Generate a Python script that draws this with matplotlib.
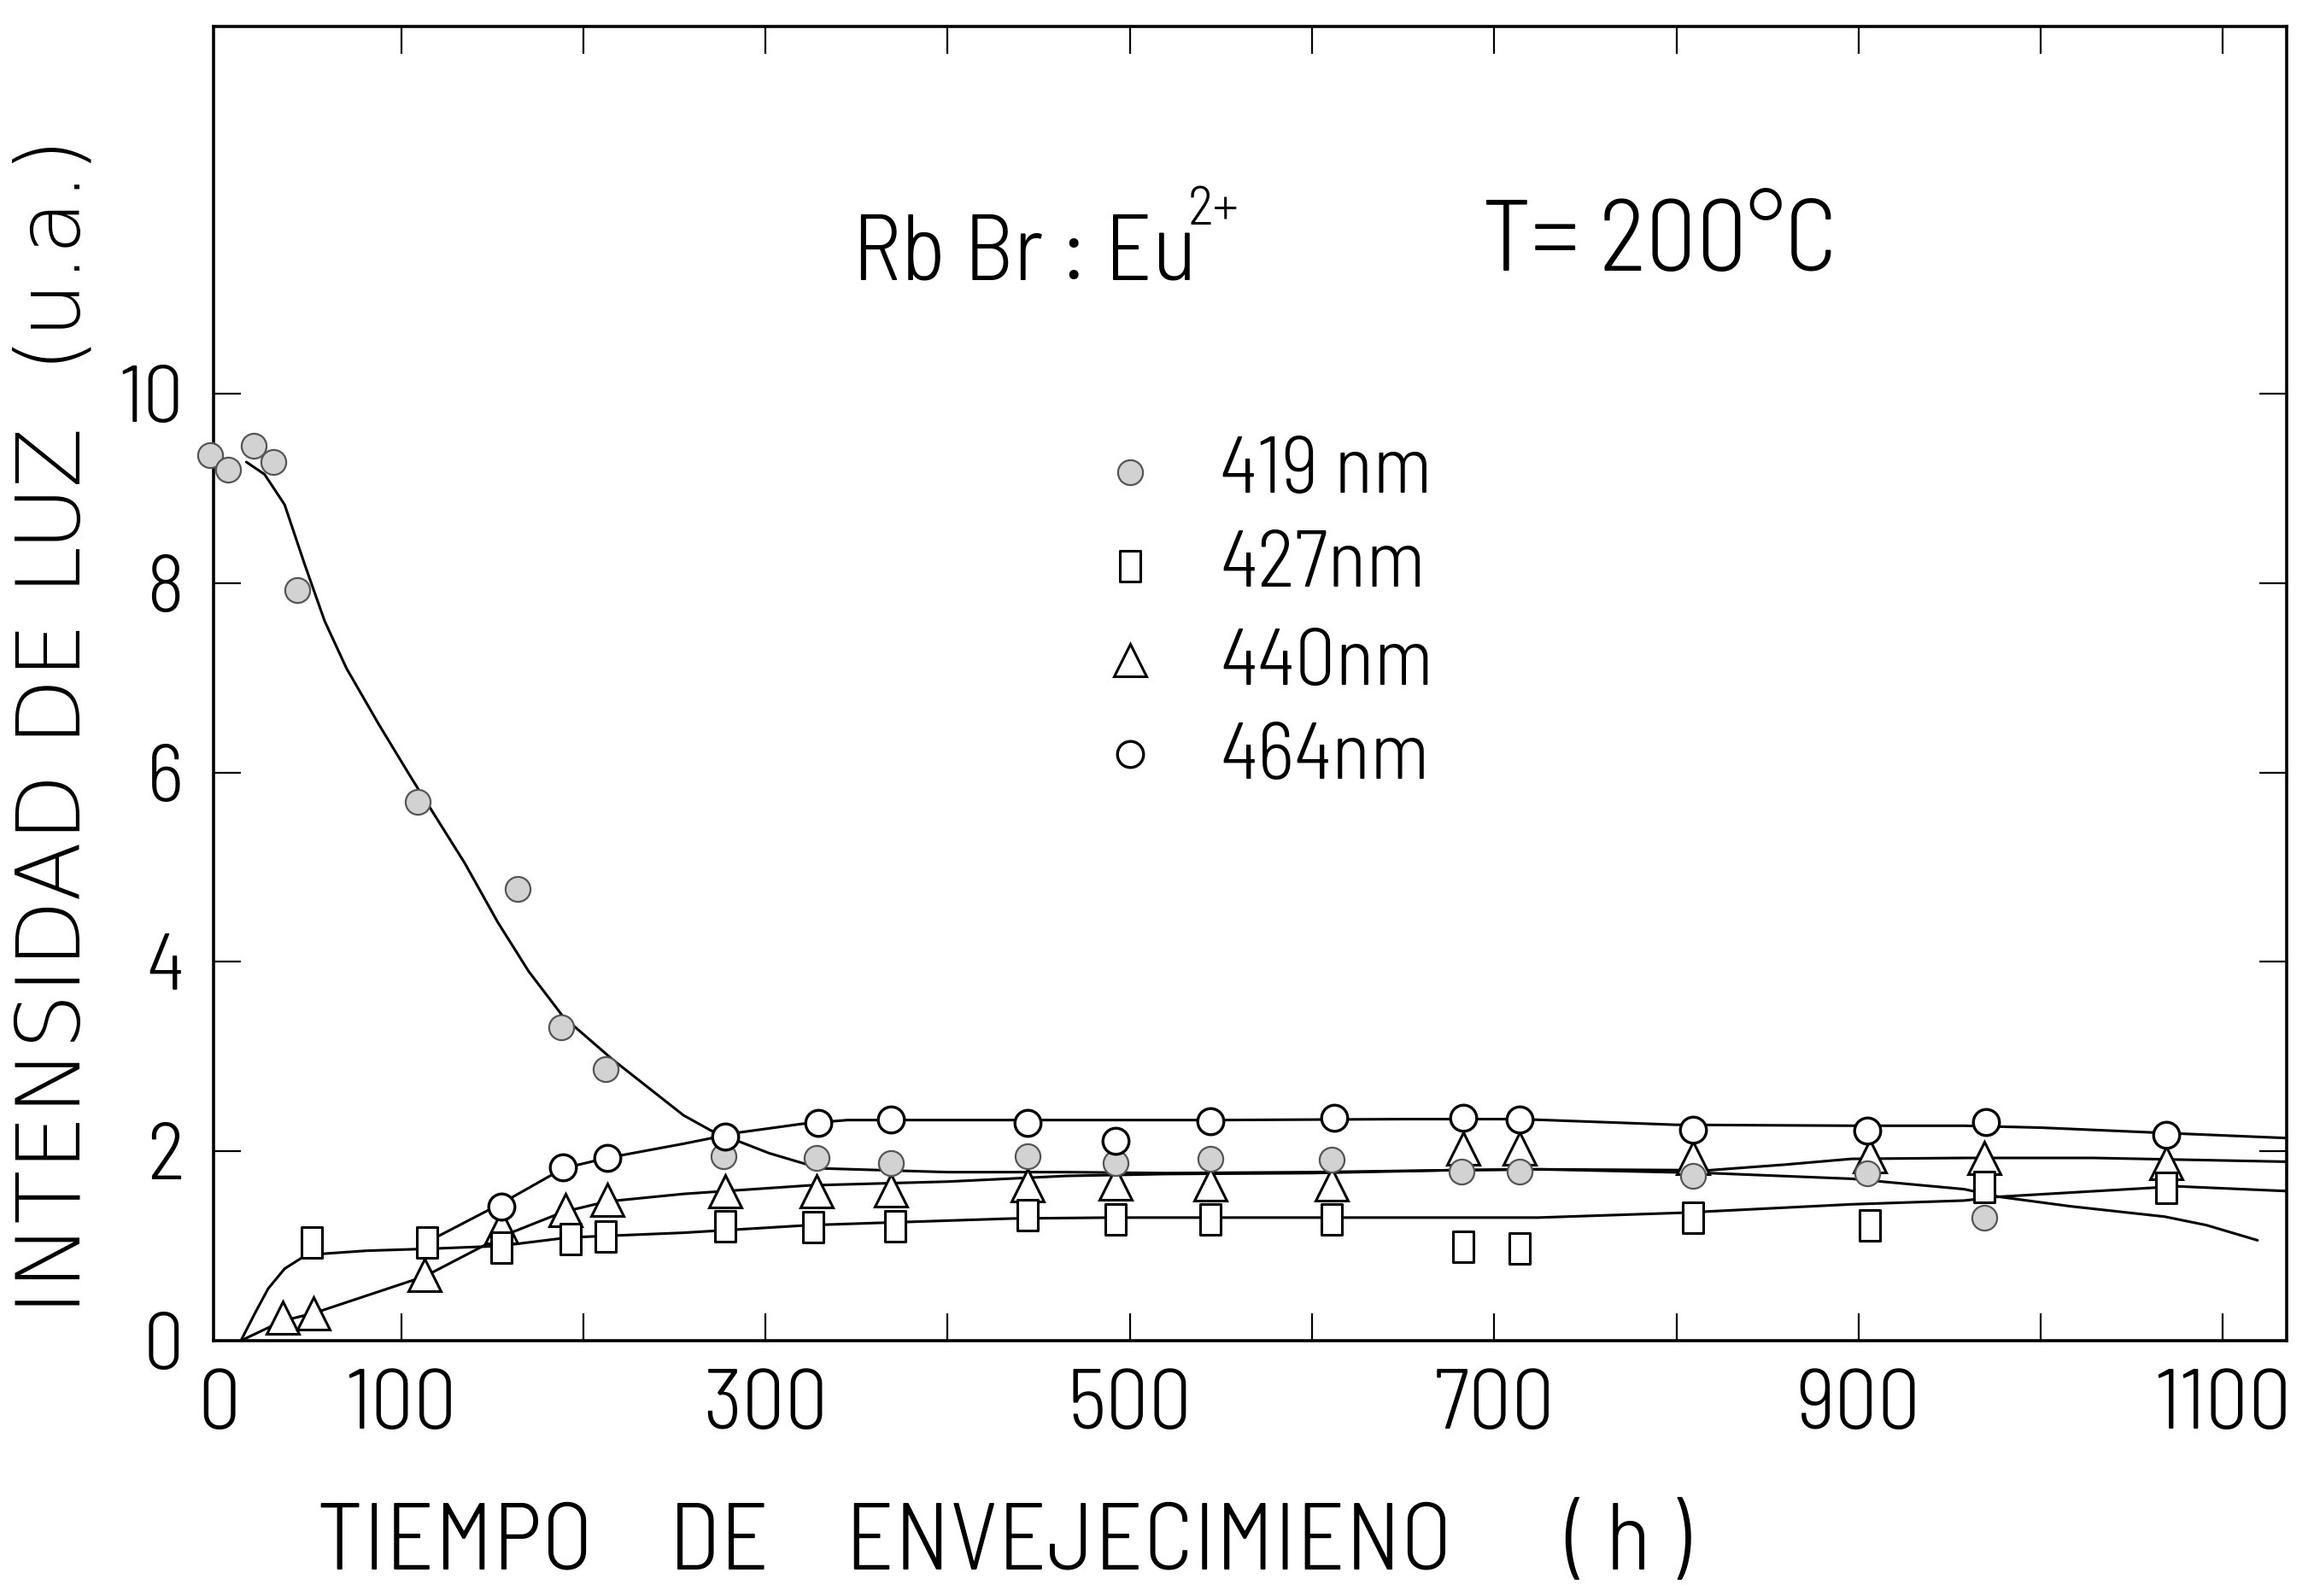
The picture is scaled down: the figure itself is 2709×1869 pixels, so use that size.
import numpy as np
import matplotlib
matplotlib.use("Agg")
import matplotlib.pyplot as plt
from matplotlib.path import Path
from matplotlib import font_manager
from matplotlib.font_manager import FontProperties


# ============================================================
# Data (time in h, intensity in a.u.)
# ============================================================

h_419 = [-5, 5, 19, 30, 43, 109, 164, 188, 212, 277, 328, 369, 444, 492,
         544, 611, 682, 714, 809, 905, 969]
i_419 = [9.35, 9.20, 9.45, 9.28, 7.93, 5.69, 4.77, 3.31, 2.87, 1.95, 1.93,
         1.88, 1.95, 1.88, 1.92, 1.91, 1.79, 1.79, 1.74, 1.77, 1.30]

h_427 = [51, 114, 155, 193, 212, 278, 326, 371, 444, 492, 544, 611, 683,
         714, 809, 906, 969, 1069]
i_427 = [1.04, 1.04, 0.98, 1.07, 1.10, 1.21, 1.20, 1.21, 1.33, 1.28, 1.28,
         1.28, 0.99, 0.97, 1.30, 1.22, 1.62, 1.61]

h_440 = [35, 52, 113, 155, 190, 213, 278, 328, 369, 444, 492, 544, 611,
         683, 714, 809, 906, 969, 1069]
i_440 = [0.24, 0.29, 0.69, 1.20, 1.38, 1.49, 1.58, 1.58, 1.59, 1.64, 1.66,
         1.65, 1.65, 2.03, 2.03, 1.93, 1.95, 1.93, 1.88]

h_464 = [155, 189, 213, 278, 329, 369, 444, 492, 544, 612, 683, 714, 809,
         905, 970, 1069]
i_464 = [1.42, 1.83, 1.93, 2.16, 2.30, 2.34, 2.30, 2.11, 2.32, 2.35, 2.35,
         2.34, 2.23, 2.22, 2.31, 2.17]

# hand-drawn guide curves
fit_h_419 = [15, 25, 36, 47, 58, 70, 88, 106, 135, 153, 170, 189, 216, 255,
             270, 302, 330, 400, 465, 520, 600, 675, 724, 818, 896, 958, 977,
             1016, 1068, 1091, 1119]
fit_i_419 = [9.28, 9.15, 8.83, 8.20, 7.60, 7.10, 6.50, 5.93, 5.04, 4.42,
             3.90, 3.42, 2.97, 2.38, 2.22, 1.98, 1.82, 1.78, 1.78, 1.77,
             1.78, 1.80, 1.81, 1.77, 1.71, 1.60, 1.52, 1.42, 1.31, 1.22, 1.06]

fit_h_427 = [12, 20, 27, 36, 45, 51, 81, 114, 154, 192, 255, 324, 435, 490,
             600, 724, 802, 896, 958, 977, 1075, 1135]
fit_i_427 = [0.00, 0.30, 0.55, 0.76, 0.87, 0.91, 0.95, 0.97, 1.00, 1.09,
             1.14, 1.22, 1.29, 1.30, 1.30, 1.30, 1.35, 1.44, 1.48, 1.52,
             1.63, 1.58]

fit_h_440 = [12, 35, 52, 113, 155, 189, 213, 255, 324, 400, 465, 520, 600,
             675, 724, 818, 860, 896, 958, 1029, 1135]
fit_i_440 = [0.00, 0.21, 0.29, 0.68, 1.10, 1.36, 1.47, 1.55, 1.64, 1.68,
             1.74, 1.76, 1.77, 1.80, 1.81, 1.80, 1.86, 1.92, 1.93, 1.93, 1.89]

fit_h_464 = [112, 120, 148, 155, 189, 213, 255, 286, 320, 345, 450, 550, 650,
             714, 800, 900, 958, 1000, 1060, 1135]
fit_i_464 = [1.02, 1.10, 1.38, 1.45, 1.82, 1.93, 2.08, 2.20, 2.29, 2.33,
             2.33, 2.33, 2.34, 2.34, 2.28, 2.27, 2.27, 2.25, 2.20, 2.14]

legend_labels = ["419 nm", "427nm", "440nm", "464nm"]
x_tick_values = [0, 100, 300, 500, 700, 900, 1100]
y_tick_values = [0, 2, 4, 6, 8, 10]


# ============================================================
# Fonts: thin, narrow lettering, picked by file
# ============================================================

def pick_font(family, weight, fallback="DejaVu Sans"):
    """Return FontProperties for the installed face closest to weight."""
    cands = [f for f in font_manager.fontManager.ttflist
             if (f.name == family or f.name.startswith(family + " "))
             and f.style == "normal"]
    if not cands:
        return FontProperties(family=fallback)

    def wt(f):
        w = f.weight
        if isinstance(w, str):
            w = font_manager.weight_dict.get(w, 400)
        return abs(int(w) - weight)

    best = min(cands, key=wt)
    return FontProperties(fname=best.fname)


def lettering(size):
    fp = pick_font("Barlow Semi Condensed", 300).copy()
    fp.set_size(size)
    return fp


def wide(size):
    fp = pick_font("DejaVu Sans", 200).copy()
    fp.set_size(size)
    return fp


# ============================================================
# Figure setup
# ============================================================

W, H = 2709, 1869

fig = plt.figure(figsize=(W / 100, H / 100), dpi=100)
fig.patch.set_facecolor("white")


def fx(px):
    return px / W


def fy(py):
    return 1 - py / H


ax = fig.add_axes([fx(250), fy(1570), fx(2677) - fx(250), fy(31) - fy(1570)])
ax.set_xlim(-3, 1135)
ax.set_ylim(0, 13.88)

for side in ["left", "right", "top", "bottom"]:
    ax.spines[side].set_linewidth(2.6)

# tall rectangle used for the 427 nm squares
rect = Path([(-0.33, -0.5), (0.33, -0.5), (0.33, 0.5), (-0.33, 0.5),
             (-0.33, -0.5)],
            [Path.MOVETO, Path.LINETO, Path.LINETO, Path.LINETO,
             Path.CLOSEPOLY])

# ============================================================
# Curves and points
# ============================================================

line_kw = dict(color="black", lw=2.2, zorder=2, solid_capstyle="round")
ax.plot(fit_h_419, fit_i_419, **line_kw)
ax.plot(fit_h_427, fit_i_427, **line_kw)
ax.plot(fit_h_440, fit_i_440, **line_kw)
ax.plot(fit_h_464, fit_i_464, **line_kw)

style_419 = dict(marker="o", ms=21, mfc="#d2d2d2", mec="#555555", mew=1.6)
style_427 = dict(marker=rect, ms=26, mfc="white", mec="black", mew=2.2)
style_440 = dict(marker="^", ms=27, mfc="white", mec="black", mew=2.2)
style_464 = dict(marker="o", ms=22, mfc="white", mec="black", mew=2.4)

ax.plot(h_440, i_440, ls="none", zorder=3, clip_on=False, **style_440)
ax.plot(h_427, i_427, ls="none", zorder=4, clip_on=False, **style_427)
ax.plot(h_419, i_419, ls="none", zorder=5, clip_on=False, **style_419)
ax.plot(h_464, i_464, ls="none", zorder=6, clip_on=False, **style_464)

# ============================================================
# Ticks
# ============================================================

ax.xaxis.remove_overlapping_locs = False
ax.yaxis.remove_overlapping_locs = False
ax.set_xticks(np.arange(100, 1101, 100))
ax.set_xticklabels([])
ax.set_yticks([2, 4, 6, 8, 10])
ax.set_yticklabels([])
ax.set_xticks(x_tick_values, labels=[str(v) for v in x_tick_values],
              minor=True)
ax.set_yticks(y_tick_values, labels=[str(v) for v in y_tick_values],
              minor=True)
ax.tick_params(which="major", direction="in", length=23, width=1.6,
               top=True, right=True)
ax.tick_params(which="minor", length=0)
ax.tick_params(axis="x", which="minor", pad=24)
ax.tick_params(axis="y", which="minor", pad=25)
for lab in ax.get_xticklabels(minor=True):
    lab.set_fontproperties(lettering(72))
for lab in ax.get_yticklabels(minor=True):
    lab.set_fontproperties(lettering(68))

# ============================================================
# Text
# ============================================================

fig.text(fx(998), fy(327), "Rb Br : Eu", fontproperties=lettering(78),
         va="baseline", ha="left")
fig.text(fx(1391), fy(263), "2+", fontproperties=lettering(46),
         va="baseline", ha="left")
fig.text(fx(1735), fy(317), "T= 200°C", fontproperties=lettering(85),
         va="baseline", ha="left")

legend_styles = [style_419, style_427, style_440, style_464]
legend_marker_y = [553, 663, 773, 883]
legend_text_y = [577, 687, 802, 912]
for label, st, my, ty in zip(legend_labels, legend_styles, legend_marker_y,
                             legend_text_y):
    fig.add_artist(plt.Line2D([fx(1323)], [fy(my)], ls="none",
                              transform=fig.transFigure, **st))
    fig.text(fx(1428), fy(ty), label, fontproperties=lettering(68),
             va="baseline", ha="left")

fig.text(fx(65), fy(851), "INTENSIDAD DE LUZ  (u.a.)", rotation=90,
         fontproperties=wide(74), va="center", ha="center")
fig.text(fx(1175), fy(1810), "TIEMPO    DE    ENVEJECIMIENO      ( h )",
         fontproperties=lettering(80), va="center", ha="center")

fig.savefig("out.png", dpi=100, facecolor="white")
